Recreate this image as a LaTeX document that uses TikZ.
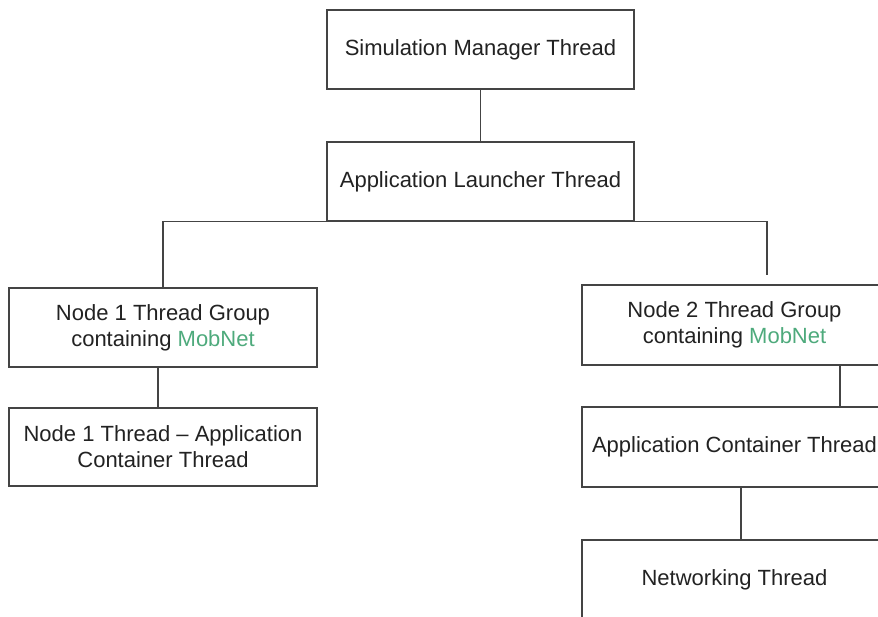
\documentclass[tikz,border=0pt]{standalone}
\usepackage{fontspec}
\setmainfont{Liberation Sans}
\definecolor{linegrey}{RGB}{68,68,68}
\definecolor{textgrey}{RGB}{34,34,34}
\definecolor{mobgreen}{RGB}{78,170,124}
\begin{document}
\begin{tikzpicture}[x=1pt,y=-1pt,
  box/.style={draw=linegrey, line width=1.6pt, rectangle, inner sep=0pt,
    align=center, text=textgrey, font=\fontsize{22}{26}\selectfont},
  link/.style={draw=linegrey, line width=1.6pt}]
\useasboundingbox (0,0) rectangle (878,617);
\fill[white] (0,0) rectangle (878,617);
\clip (0,0) rectangle (878,617);

% top of the hierarchy
\node[box, minimum width=307, minimum height=79] (sim) at (480.5,49.5) {Simulation Manager Thread};
\node[box, minimum width=307, minimum height=79] (launch) at (480.5,181.5) {Application Launcher Thread};

% node 1 branch
\node[box, minimum width=308, minimum height=79] (n1) at (163,327.5) {Node 1 Thread Group\\containing \textcolor{mobgreen}{MobNet}};
\node[box, minimum width=308, minimum height=78] (n1t) at (163,447) {Node 1 Thread -- Application\\Container Thread};

% node 2 branch
\node[box, minimum width=305, minimum height=80] (n2) at (734.5,325) {Node 2 Thread Group\\containing \textcolor{mobgreen}{MobNet}};
\node[box, minimum width=305, minimum height=80] (act) at (734.5,447) {Application Container Thread};
\node[box, minimum width=305, minimum height=80] (net) at (734.5,580) {Networking Thread};

% connectors
\coordinate (rtop) at (767,221.5);
\coordinate (rend) at (767,275);
\draw[link] (sim.south) -- (launch.north);
\draw[link] (n1.north) |- (rtop) -- (rend);
\draw[link] ([xshift=-5]n1.south) -- ([xshift=-5]n1t.north);
\draw[link] ([xshift=105.5]n2.south) -- ([xshift=105.5]act.north);
\draw[link] ([xshift=6.5]act.south) -- ([xshift=6.5]net.north);
\end{tikzpicture}
\end{document}
